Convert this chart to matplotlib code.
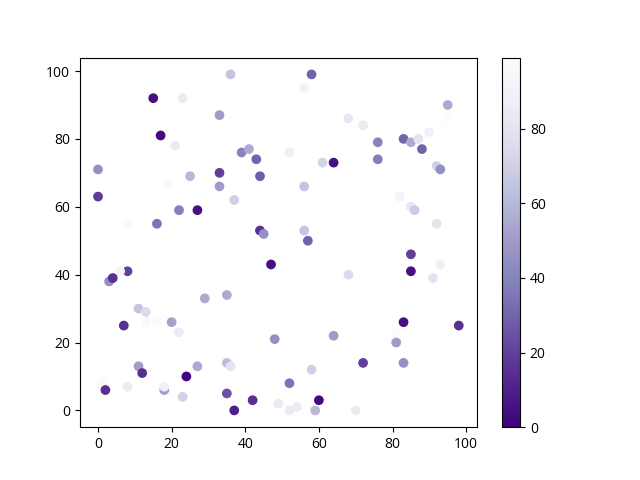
import numpy as np
import matplotlib
matplotlib.use("Agg")
import matplotlib.pyplot as plt

plt.rcParams['font.family'] = ['Open Sans', 'DejaVu Sans']

# x, y positions and colour values
x = [36, 15, 23, 33, 17, 21, 39, 41, 43, 44, 0, 25, 33, 33, 0, 19, 37, 22, 27, 8,
     16, 44, 45,
     58, 56, 68, 72, 95, 95, 90, 76, 83, 85, 87, 88, 52, 61, 64, 76, 92, 93, 56, 82,
     85, 86, 92, 56, 57,
     47, 8, 6, 3, 4, 29, 35, 11, 13, 13, 16, 20, 22, 7, 48, 11, 12, 27, 35, 36, 24,
     1, 2, 8, 18, 18, 23, 35, 42, 37, 49,
     85, 85, 93, 91, 68, 83, 98, 81, 64, 81, 72, 83, 58, 52, 60, 52, 54, 59, 70]
y = [99, 92, 92, 87, 81, 78, 76, 77, 74, 69, 71, 69, 70, 66, 63, 67, 62, 59, 59, 55,
     55, 53, 52,
     99, 95, 86, 84, 90, 86, 82, 79, 80, 79, 80, 77, 76, 73, 73, 74, 72, 71, 66, 63,
     60, 59, 55, 53, 50,
     43, 41, 41, 38, 39, 33, 34, 30, 29, 26, 26, 26, 23, 25, 21, 13, 11, 13, 14, 13, 10,
     8, 6, 7, 6, 7, 4, 5, 3, 0, 2,
     46, 41, 43, 39, 40, 26, 25, 23, 22, 20, 14, 14, 12, 8, 3, 0, 1, 0, 0]
c = [65, 5, 85, 50, 3, 85, 40, 55, 30, 28, 45, 60, 20, 50, 18, 95, 70, 38, 5, 97,
     35, 15, 45,
     30, 90, 82, 85, 55, 99, 90, 40, 30, 55, 80, 30, 88, 72, 5, 38, 70, 45, 65, 92,
     82, 68, 80, 65, 30,
     5, 20, 92, 45, 15, 55, 55, 65, 75, 97, 97, 52, 85, 15, 45, 50, 15, 55, 62, 80, 2,
     97, 15, 85, 50, 90, 70, 25, 15, 10, 85,
     20, 5, 88, 80, 75, 5, 15, 98, 50, 50, 20, 45, 70, 35, 3, 85, 85, 60, 85]

fig, ax = plt.subplots(figsize=(6.4, 4.8), dpi=100)
sc = ax.scatter(x, y, c=c, cmap='Purples_r', vmin=0, vmax=99)
fig.colorbar(sc, ax=ax)
ax.set_xticks([0, 20, 40, 60, 80, 100])
ax.set_yticks([0, 20, 40, 60, 80, 100])

fig.savefig('out.png')
